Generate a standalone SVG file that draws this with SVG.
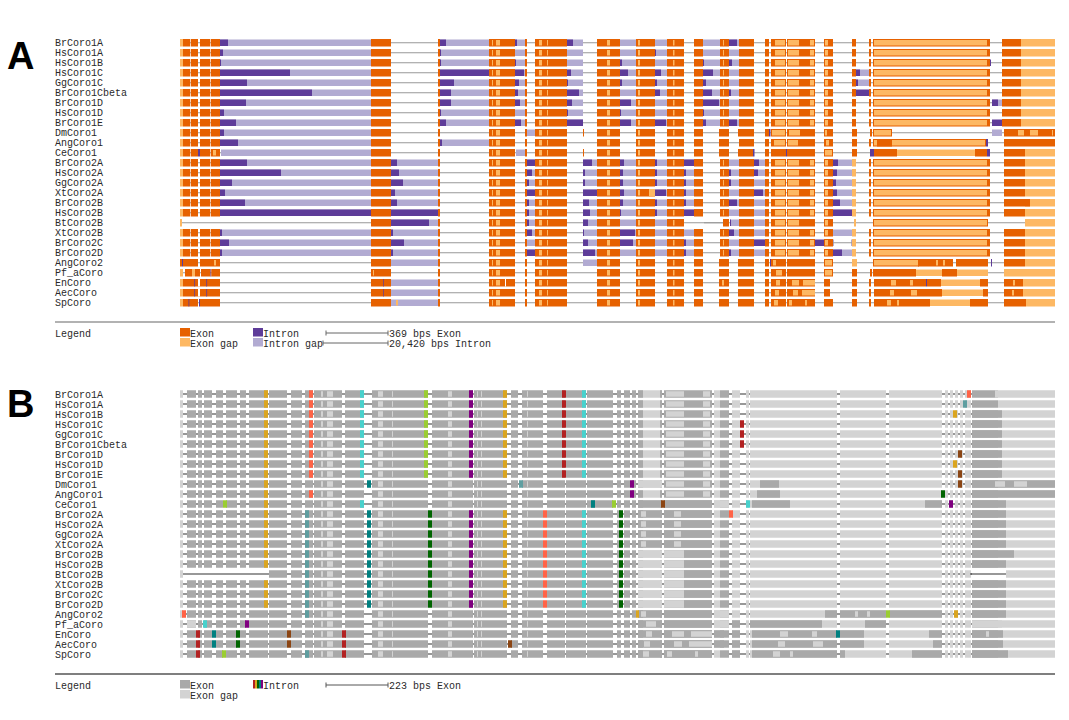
<svg xmlns="http://www.w3.org/2000/svg" xmlns:xlink="http://www.w3.org/1999/xlink" width="1069" height="720" viewBox="0 0 1069 720">
<style>
text{font-family:"Liberation Mono","DejaVu Sans Mono",monospace;font-size:10px;fill:#2a2a2a}
.big{font-family:"Liberation Sans",Arial,sans-serif;font-size:38px;font-weight:bold;fill:#000}
.ex{fill:#E66100}.eg{fill:#FDB863}.lt{fill:#FDB863}.egb{fill:#FDB863;stroke:#E66100;stroke-width:1}
.in{fill:#5E3C99}.ig{fill:#B2ABD2}.ln{stroke:#999;stroke-width:1}
.bx{fill:#A9A9A9}.bg{fill:#D3D3D3}.bl{stroke:#333;stroke-width:1.2}
.wh{fill:#fff}
.GR{fill:#DAA520}.TO{fill:#FF6347}.TQ{fill:#48D1CC}.YG{fill:#9ACD32}.PU{fill:#800080}.FB{fill:#B22222}.CB{fill:#5F9EA0}.TE{fill:#008080}.DG{fill:#006400}.SB{fill:#8B4513}
.hr{stroke:#999;stroke-width:1.5}.hr2{stroke:#555;stroke-width:1.5}.sc{stroke:#666;stroke-width:1}
</style>
<defs>
<g id="aIg1">
<rect class="ig" x="220" y="0.5" width="151" height="6.5"/><rect class="ig" x="440" y="0.5" width="49" height="6.5"/><rect class="ig" x="515" y="0.5" width="10" height="6.5"/><rect class="ig" x="567" y="0.5" width="16" height="6.5"/><rect class="ig" x="620" y="0.5" width="16" height="6.5"/><rect class="ig" x="655" y="0.5" width="12" height="6.5"/><rect class="ig" x="703" y="0.5" width="17" height="6.5"/><rect class="ig" x="729" y="0.5" width="10" height="6.5"/>
</g>
<g id="aIg2">
<rect class="ig" x="220" y="0.5" width="151" height="6.5"/><rect class="ig" x="391" y="0.5" width="47" height="6.5"/><rect class="ig" x="527" y="0.5" width="8" height="6.5"/><rect class="ig" x="583" y="0.5" width="14" height="6.5"/><rect class="ig" x="620" y="0.5" width="16" height="6.5"/><rect class="ig" x="655" y="0.5" width="12" height="6.5"/><rect class="ig" x="684" y="0.5" width="10" height="6.5"/><rect class="ig" x="729" y="0.5" width="10" height="6.5"/><rect class="ig" x="754" y="0.5" width="11" height="6.5"/><rect class="ig" x="833" y="0.5" width="19" height="6.5"/>
</g>
<g id="aE1">
<rect class="eg" x="180" y="0" width="3" height="7.5"/><rect class="ex" x="183" y="0" width="7" height="7.5"/><rect class="ex" x="190.7" y="0" width="7.3" height="7.5"/><rect class="ex" x="200" y="0" width="10" height="7.5"/><rect class="ex" x="210.7" y="0" width="9.3" height="7.5"/>
</g>
<g id="aExM">
<rect class="ex" x="371" y="0" width="20" height="7.5"/><rect class="ex" x="438" y="0" width="2" height="7.5"/>
<rect class="ex" x="489" y="0" width="26" height="7.5"/><rect class="lt" x="492" y="1" width="1" height="5.5"/><rect class="lt" x="496" y="1" width="4" height="5.5"/>
<rect class="ex" x="525" y="0" width="2" height="7.5"/>
<rect class="ex" x="535" y="0" width="32" height="7.5"/><rect class="lt" x="539" y="1" width="3" height="5.5"/><rect class="lt" x="547" y="1" width="1" height="5.5"/>
<rect class="ex" x="597" y="0" width="23" height="7.5"/><rect class="lt" x="607" y="1" width="3" height="5.5"/>
<rect class="ex" x="636" y="0" width="19" height="7.5"/><rect class="lt" x="638" y="1" width="2" height="5.5"/>
<rect class="ex" x="667" y="0" width="17" height="7.5"/><rect class="lt" x="673" y="1" width="1.5" height="5.5"/>
<rect class="ex" x="694" y="0" width="9" height="7.5"/>
</g>
<g id="aExL"><use href="#aE1"/><use href="#aExM"/></g>
<g id="aR0">
<rect class="ex" x="720" y="0" width="9" height="7.5"/><rect class="lt" x="723" y="1" width="1" height="5.5"/>
<rect class="ex" x="739" y="0" width="15" height="7.5"/><rect class="ex" x="765" y="0" width="4" height="7.5"/>
<rect class="ex" x="771" y="0" width="15" height="7.5"/><rect class="lt" x="775" y="1" width="10" height="5.5"/>
<rect class="ex" x="787" y="0" width="28" height="7.5"/><rect class="lt" x="788" y="1" width="11" height="5.5"/><rect class="lt" x="810" y="1" width="4" height="5.5"/>
<rect class="ex" x="824" y="0" width="9" height="7.5"/><rect class="lt" x="825" y="1" width="3" height="5.5"/>
<rect class="ex" x="869" y="0" width="2" height="7.5"/>
<rect class="egb" x="873.5" y="0.5" width="114" height="6.5"/>
<rect class="ex" x="988" y="0" width="2" height="7.5"/>
</g>
<g id="aExR"><use href="#aR0"/><rect class="ex" x="852" y="0" width="4" height="7.5"/><rect class="ex" x="1002" y="0" width="2" height="7.5"/><rect class="ex" x="1004" y="0" width="17" height="7.5"/><rect class="eg" x="1021" y="0" width="34" height="7.5"/></g>
<g id="aExR2"><use href="#aR0"/><rect class="eg" x="852" y="0" width="4" height="7.5"/><rect class="ex" x="1004" y="0" width="21" height="7.5"/><rect class="eg" x="1025" y="0" width="30" height="7.5"/></g>
<g id="aLn"><line class="ln" x1="180" y1="3.75" x2="1055" y2="3.75"/></g>

<g id="bBase">
<line class="bl" x1="183" y1="3.75" x2="1055" y2="3.75"/>
<rect class="bg" x="180" y="0" width="3" height="7.5"/>
<rect class="bx" x="187" y="0" width="9" height="7.5"/><rect class="bx" x="198" y="0" width="4" height="7.5"/><rect class="bx" x="204" y="0" width="8" height="7.5"/><rect class="bx" x="216" y="0" width="7" height="7.5"/><rect class="bx" x="226" y="0" width="11" height="7.5"/><rect class="bx" x="240" y="0" width="6" height="7.5"/><rect class="bx" x="249" y="0" width="19" height="7.5"/><rect class="bx" x="269" y="0" width="18" height="7.5"/><rect class="bx" x="291" y="0" width="11" height="7.5"/><rect class="bx" x="305" y="0" width="8" height="7.5"/><rect class="bx" x="314" y="0" width="28" height="7.5"/><rect class="bx" x="345" y="0" width="19" height="7.5"/><rect class="bx" x="372" y="0" width="56" height="7.5"/><rect class="bx" x="432" y="0" width="41" height="7.5"/><rect class="bx" x="474" y="0" width="33" height="7.5"/><rect class="bx" x="511" y="0" width="7" height="7.5"/><rect class="bx" x="522" y="0" width="21" height="7.5"/><rect class="bx" x="547" y="0" width="18" height="7.5"/><rect class="bx" x="566" y="0" width="20" height="7.5"/><rect class="bx" x="587" y="0" width="26" height="7.5"/><rect class="bx" x="617" y="0" width="4" height="7.5"/><rect class="bx" x="624" y="0" width="6" height="7.5"/><rect class="bx" x="632" y="0" width="4" height="7.5"/>
<rect class="bg" x="321" y="1" width="2" height="5.5"/><rect class="bg" x="327" y="1" width="6" height="5.5"/><rect class="bg" x="378" y="1" width="5" height="5.5"/><rect class="bg" x="392" y="1" width="1" height="5.5"/><rect class="bg" x="448" y="1" width="4" height="5.5"/><rect class="bg" x="477" y="1" width="1" height="5.5"/><rect class="bg" x="481" y="1" width="1" height="5.5"/><rect class="bg" x="527" y="1" width="1" height="5.5"/>
<rect class="bg" x="638" y="0" width="24" height="7.5"/><rect class="bx" x="638" y="0" width="5" height="7.5"/><rect class="bx" x="660" y="0" width="2" height="7.5"/><rect class="bx" x="664" y="0" width="48" height="7.5"/><rect class="bg" x="666" y="1" width="18" height="5.5"/><rect class="bg" x="703" y="1" width="7" height="5.5"/><rect class="bg" x="714" y="0" width="6" height="7.5"/><rect class="bx" x="720" y="0" width="9" height="7.5"/><rect class="bg" x="732" y="0" width="8" height="7.5"/><rect class="bg" x="746" y="0" width="3" height="7.5"/><rect class="bg" x="750" y="0" width="87" height="7.5"/><rect class="bg" x="840" y="0" width="46" height="7.5"/><rect class="bg" x="889" y="0" width="53" height="7.5"/><rect class="bg" x="945" y="0" width="3" height="7.5"/><rect class="bg" x="950" y="0" width="3" height="7.5"/><rect class="bg" x="955" y="0" width="3" height="7.5"/><rect class="bg" x="960" y="0" width="3" height="7.5"/><rect class="bg" x="965" y="0" width="6" height="7.5"/><rect class="bx" x="972" y="0" width="26" height="7.5"/><rect class="bg" x="998" y="0" width="57" height="7.5"/>
</g>
<g id="bM1"><rect class="GR" x="264" y="0" width="4" height="7.5"/><rect class="TO" x="309" y="0" width="4" height="7.5"/><rect class="TQ" x="360" y="0" width="4" height="7.5"/><rect class="YG" x="424" y="0" width="4" height="7.5"/><rect class="PU" x="469" y="0" width="4" height="7.5"/><rect class="GR" x="503" y="0" width="4" height="7.5"/><rect class="FB" x="562" y="0" width="4" height="7.5"/><rect class="TQ" x="582" y="0" width="4" height="7.5"/></g>
<g id="bE1"><rect class="bx" x="972" y="0" width="30" height="7.5"/></g>
<g id="bM2"><rect class="CB" x="305" y="0" width="4" height="7.5"/><rect class="TE" x="367" y="0" width="4" height="7.5"/><rect class="DG" x="428" y="0" width="4" height="7.5"/><rect class="PU" x="469" y="0" width="4" height="7.5"/><rect class="GR" x="503" y="0" width="4" height="7.5"/><rect class="TO" x="543" y="0" width="4" height="7.5"/><rect class="TQ" x="582" y="0" width="4" height="7.5"/><rect class="DG" x="619" y="0" width="4" height="7.5"/><rect class="bx" x="972" y="0" width="34" height="7.5"/></g>
<g id="bS2a"><rect class="bx" x="638" y="0" width="24" height="7.5"/><rect class="bg" x="641" y="1" width="5" height="5.5"/><rect class="bx" x="664" y="0" width="48" height="7.5"/><rect class="bg" x="674" y="1" width="7" height="5.5"/></g>
<g id="bS2b"><rect class="bg" x="638" y="0" width="24" height="7.5"/><rect class="bg" x="664" y="0" width="20" height="7.5"/><rect class="bx" x="684" y="0" width="28" height="7.5"/></g>
</defs>

<rect x="0" y="0" width="1069" height="720" fill="#fff"/>
<text class="big" x="7" y="69">A</text>
<text class="big" x="7" y="417">B</text>

<g id="panelA">
<g id="a-BrCoro1A" transform="translate(0,39)"><text x="55" y="7.3">BrCoro1A</text><use href="#aLn"/><use href="#aIg1"/>
<rect class="in" x="220" y="0.5" width="8" height="6.5"/><rect class="in" x="440" y="0.5" width="6" height="6.5"/><rect class="in" x="515" y="0.5" width="2" height="6.5"/><rect class="in" x="567" y="0.5" width="6" height="6.5"/><rect class="in" x="729" y="0.5" width="8" height="6.5"/>
<use href="#aExL"/><use href="#aExR"/></g>
<g id="a-HsCoro1A" transform="translate(0,49)"><text x="55" y="7.3">HsCoro1A</text><use href="#aLn"/><use href="#aIg1"/>
<rect class="in" x="220" y="0.5" width="3" height="6.5"/><rect class="in" x="440" y="0.5" width="1" height="6.5"/><rect class="in" x="655" y="0.5" width="1" height="6.5"/>
<use href="#aExL"/><use href="#aExR"/></g>
<g id="a-HsCoro1B" transform="translate(0,59)"><text x="55" y="7.3">HsCoro1B</text><use href="#aLn"/><use href="#aIg1"/>
<rect class="in" x="220" y="0.5" width="1" height="6.5"/><rect class="in" x="440" y="0.5" width="1" height="6.5"/><rect class="in" x="515" y="0.5" width="1" height="6.5"/><rect class="in" x="620" y="0.5" width="2" height="6.5"/><rect class="in" x="703" y="0.5" width="1" height="6.5"/><rect class="in" x="729" y="0.5" width="3" height="6.5"/><rect class="in" x="990" y="0.5" width="1" height="6.5"/>
<use href="#aExL"/><use href="#aExR"/></g>
<g id="a-HsCoro1C" transform="translate(0,69)"><text x="55" y="7.3">HsCoro1C</text><use href="#aLn"/><use href="#aIg1"/><rect class="ig" x="856" y="0.5" width="13" height="6.5"/>
<rect class="in" x="220" y="0.5" width="70" height="6.5"/><rect class="in" x="440" y="0.5" width="49" height="6.5"/><rect class="in" x="515" y="0.5" width="9" height="6.5"/><rect class="in" x="567" y="0.5" width="4" height="6.5"/><rect class="in" x="620" y="0.5" width="8" height="6.5"/><rect class="in" x="655" y="0.5" width="6" height="6.5"/><rect class="in" x="703" y="0.5" width="10" height="6.5"/><rect class="in" x="856" y="0.5" width="4" height="6.5"/>
<use href="#aExL"/><use href="#aExR"/></g>
<g id="a-GgCoro1C" transform="translate(0,79)"><text x="55" y="7.3">GgCoro1C</text><use href="#aLn"/><use href="#aIg1"/><rect class="ig" x="856" y="0.5" width="13" height="6.5"/>
<rect class="in" x="220" y="0.5" width="27" height="6.5"/><rect class="in" x="440" y="0.5" width="14" height="6.5"/><rect class="in" x="515" y="0.5" width="4" height="6.5"/><rect class="in" x="567" y="0.5" width="1" height="6.5"/><rect class="in" x="620" y="0.5" width="2" height="6.5"/><rect class="in" x="655" y="0.5" width="2" height="6.5"/><rect class="in" x="703" y="0.5" width="3" height="6.5"/><rect class="in" x="856" y="0.5" width="2" height="6.5"/>
<use href="#aExL"/><use href="#aExR"/></g>
<g id="a-BrCoro1Cbeta" transform="translate(0,89)"><text x="55" y="7.3">BrCoro1Cbeta</text><use href="#aLn"/><use href="#aIg1"/>
<rect class="in" x="220" y="0.5" width="92" height="6.5"/><rect class="in" x="440" y="0.5" width="11" height="6.5"/><rect class="in" x="515" y="0.5" width="3" height="6.5"/><rect class="in" x="567" y="0.5" width="12" height="6.5"/><rect class="in" x="655" y="0.5" width="5" height="6.5"/><rect class="in" x="703" y="0.5" width="9" height="6.5"/><rect class="in" x="729" y="0.5" width="2" height="6.5"/><rect class="in" x="856" y="0.5" width="14" height="6.5"/>
<use href="#aExL"/><use href="#aExR"/></g>
<g id="a-BrCoro1D" transform="translate(0,99)"><text x="55" y="7.3">BrCoro1D</text><use href="#aLn"/><use href="#aIg1"/><rect class="ig" x="992" y="0.5" width="10" height="6.5"/>
<rect class="in" x="220" y="0.5" width="26" height="6.5"/><rect class="in" x="440" y="0.5" width="11" height="6.5"/><rect class="in" x="515" y="0.5" width="5" height="6.5"/><rect class="in" x="567" y="0.5" width="5" height="6.5"/><rect class="in" x="620" y="0.5" width="11" height="6.5"/><rect class="in" x="703" y="0.5" width="16" height="6.5"/><rect class="in" x="992" y="0.5" width="6" height="6.5"/>
<use href="#aExL"/><use href="#aExR"/></g>
<g id="a-HsCoro1D" transform="translate(0,109)"><text x="55" y="7.3">HsCoro1D</text><use href="#aLn"/><use href="#aIg1"/>
<rect class="in" x="220" y="0.5" width="4" height="6.5"/><rect class="in" x="440" y="0.5" width="1" height="6.5"/><rect class="in" x="567" y="0.5" width="1" height="6.5"/><rect class="in" x="620" y="0.5" width="1" height="6.5"/><rect class="in" x="703" y="0.5" width="1" height="6.5"/>
<use href="#aExL"/><use href="#aExR"/></g>
<g id="a-BrCoro1E" transform="translate(0,119)"><text x="55" y="7.3">BrCoro1E</text><use href="#aLn"/><use href="#aIg1"/>
<rect class="in" x="220" y="0.5" width="16" height="6.5"/><rect class="in" x="440" y="0.5" width="6" height="6.5"/><rect class="in" x="515" y="0.5" width="6" height="6.5"/><rect class="in" x="567" y="0.5" width="16" height="6.5"/><rect class="in" x="620" y="0.5" width="11" height="6.5"/><rect class="in" x="655" y="0.5" width="11" height="6.5"/><rect class="in" x="703" y="0.5" width="3" height="6.5"/><rect class="in" x="729" y="0.5" width="8" height="6.5"/><rect class="in" x="992" y="0.5" width="10" height="6.5"/>
<use href="#aExL"/><use href="#aExR"/></g>
<g id="a-DmCoro1" transform="translate(0,129)"><text x="55" y="7.3">DmCoro1</text><use href="#aLn"/>
<rect class="ig" x="220" y="0.5" width="151" height="6.5"/><rect class="ig" x="527" y="0.5" width="8" height="6.5"/><rect class="ig" x="992" y="0.5" width="10" height="6.5"/>
<rect class="in" x="220" y="0.5" width="4" height="6.5"/>
<use href="#aExL"/><rect class="ex" x="583" y="0" width="1" height="7.5"/>
<rect class="ex" x="719" y="0" width="10" height="7.5"/><rect class="ex" x="738" y="0" width="16" height="7.5"/><rect class="ex" x="765" y="0" width="4" height="7.5"/><rect class="in" x="769" y="0" width="1.5" height="7.5"/><rect class="egb" x="771.5" y="0.5" width="14" height="6.5"/><rect class="ex" x="787" y="0" width="28" height="7.5"/><rect class="lt" x="789" y="1" width="11" height="5.5"/><rect class="ex" x="824" y="0" width="9" height="7.5"/><rect class="lt" x="825" y="1" width="2" height="5.5"/><rect class="ex" x="852" y="0" width="5" height="7.5"/><rect class="ex" x="870" y="0" width="2" height="7.5"/><rect class="egb" x="873.5" y="0.5" width="18" height="6.5"/>
<rect class="ex" x="1004" y="0" width="51" height="7.5"/><rect class="lt" x="1018" y="1" width="6" height="5.5"/><rect class="lt" x="1030" y="1" width="8" height="5.5"/><rect class="lt" x="1052" y="1" width="1" height="5.5"/></g>
<g id="a-AngCoro1" transform="translate(0,139)"><text x="55" y="7.3">AngCoro1</text><use href="#aLn"/>
<rect class="ig" x="220" y="0.5" width="151" height="6.5"/><rect class="ig" x="440" y="0.5" width="49" height="6.5"/>
<rect class="in" x="220" y="0.5" width="18" height="6.5"/><rect class="in" x="440" y="0.5" width="2" height="6.5"/>
<use href="#aExL"/>
<rect class="ex" x="719" y="0" width="10" height="7.5"/><rect class="ex" x="739" y="0" width="15" height="7.5"/><rect class="ex" x="765" y="0" width="4" height="7.5"/><rect class="ex" x="771" y="0" width="15" height="7.5"/><rect class="lt" x="774" y="1" width="11" height="5.5"/><rect class="ex" x="787" y="0" width="28" height="7.5"/><rect class="lt" x="788" y="1" width="10" height="5.5"/><rect class="ex" x="824" y="0" width="9" height="7.5"/><rect class="lt" x="826" y="1" width="3" height="5.5"/><rect class="ex" x="852" y="0" width="5" height="7.5"/><rect class="ex" x="869" y="0" width="2" height="7.5"/><rect class="egb" x="873.5" y="0.5" width="112" height="6.5"/><rect class="ex" x="877" y="0" width="15" height="7.5"/><rect class="in" x="986" y="0" width="2" height="7.5"/>
<rect class="ex" x="1004" y="0" width="51" height="7.5"/></g>
<g id="a-CeCoro1" transform="translate(0,149)"><text x="55" y="7.3">CeCoro1</text><use href="#aLn"/>
<rect class="ig" x="221" y="0.5" width="150" height="6.5"/><rect class="ig" x="516" y="0.5" width="9" height="6.5"/>
<use href="#aExL"/><rect class="in" x="198" y="0" width="2" height="7.5"/><rect class="lt" x="213" y="1" width="3" height="5.5"/><rect class="ex" x="583" y="0" width="1" height="7.5"/>
<rect class="ex" x="719" y="0" width="10" height="7.5"/><rect class="ex" x="738" y="0" width="15" height="7.5"/><rect class="in" x="753" y="0" width="1.5" height="7.5"/><rect class="ex" x="765" y="0" width="4" height="7.5"/><rect class="ex" x="771" y="0" width="15" height="7.5"/><rect class="in" x="786" y="0" width="1" height="7.5"/><rect class="ex" x="787" y="0" width="28" height="7.5"/><rect class="egb" x="824.5" y="0.5" width="8" height="6.5"/><rect class="ex" x="852" y="0" width="5" height="7.5"/><rect class="in" x="870" y="0" width="4" height="7.5"/><rect class="ex" x="874" y="0" width="23" height="7.5"/><rect class="eg" x="897" y="0.5" width="78" height="6.5"/><rect class="ex" x="975" y="0" width="12" height="7.5"/><rect class="in" x="987" y="0" width="3" height="7.5"/>
<rect class="ex" x="1004" y="0" width="21" height="7.5"/><rect class="eg" x="1025" y="0" width="30" height="7.5"/></g>
<g id="a-BrCoro2A" transform="translate(0,159)"><text x="55" y="7.3">BrCoro2A</text><use href="#aLn"/><use href="#aIg2"/>
<rect class="in" x="220" y="0.5" width="27" height="6.5"/><rect class="in" x="391" y="0.5" width="6" height="6.5"/><rect class="in" x="527" y="0.5" width="8" height="6.5"/><rect class="in" x="583" y="0.5" width="9" height="6.5"/><rect class="in" x="620" y="0.5" width="4" height="6.5"/><rect class="in" x="655" y="0.5" width="2" height="6.5"/><rect class="in" x="684" y="0.5" width="10" height="6.5"/><rect class="in" x="754" y="0.5" width="5" height="6.5"/><rect class="in" x="833" y="0.5" width="5" height="6.5"/>
<use href="#aExL"/><use href="#aExR2"/></g>
<g id="a-HsCoro2A" transform="translate(0,169)"><text x="55" y="7.3">HsCoro2A</text><use href="#aLn"/><use href="#aIg2"/>
<rect class="in" x="220" y="0.5" width="61" height="6.5"/><rect class="in" x="391" y="0.5" width="8" height="6.5"/><rect class="in" x="527" y="0.5" width="5" height="6.5"/><rect class="in" x="583" y="0.5" width="2" height="6.5"/><rect class="in" x="620" y="0.5" width="3" height="6.5"/><rect class="in" x="655" y="0.5" width="2" height="6.5"/><rect class="in" x="684" y="0.5" width="2" height="6.5"/><rect class="in" x="729" y="0.5" width="2" height="6.5"/><rect class="in" x="754" y="0.5" width="4" height="6.5"/><rect class="in" x="833" y="0.5" width="4" height="6.5"/>
<use href="#aExL"/><use href="#aExR2"/></g>
<g id="a-GgCoro2A" transform="translate(0,179)"><text x="55" y="7.3">GgCoro2A</text><use href="#aLn"/><use href="#aIg2"/>
<rect class="in" x="220" y="0.5" width="12" height="6.5"/><rect class="in" x="391" y="0.5" width="12" height="6.5"/><rect class="in" x="527" y="0.5" width="2" height="6.5"/><rect class="in" x="583" y="0.5" width="2" height="6.5"/><rect class="in" x="620" y="0.5" width="3" height="6.5"/><rect class="in" x="655" y="0.5" width="2" height="6.5"/><rect class="in" x="684" y="0.5" width="2" height="6.5"/><rect class="in" x="729" y="0.5" width="2" height="6.5"/><rect class="in" x="833" y="0.5" width="3" height="6.5"/>
<use href="#aExL"/><use href="#aExR2"/></g>
<g id="a-XtCoro2A" transform="translate(0,189)"><text x="55" y="7.3">XtCoro2A</text><use href="#aLn"/><use href="#aIg2"/>
<rect class="in" x="220" y="0.5" width="5" height="6.5"/><rect class="in" x="391" y="0.5" width="4" height="6.5"/><rect class="in" x="527" y="0.5" width="8" height="6.5"/><rect class="in" x="583" y="0.5" width="14" height="6.5"/><rect class="in" x="620" y="0.5" width="4" height="6.5"/><rect class="in" x="655" y="0.5" width="11" height="6.5"/><rect class="in" x="684" y="0.5" width="2" height="6.5"/><rect class="in" x="754" y="0.5" width="9" height="6.5"/><rect class="in" x="833" y="0.5" width="4" height="6.5"/>
<use href="#aExL"/><rect class="eg" x="649" y="0" width="6" height="7.5"/><use href="#aExR2"/></g>
<g id="a-BrCoro2B" transform="translate(0,199)"><text x="55" y="7.3">BrCoro2B</text><use href="#aLn"/><use href="#aIg2"/>
<rect class="in" x="220" y="0.5" width="25" height="6.5"/><rect class="in" x="391" y="0.5" width="6" height="6.5"/><rect class="in" x="527" y="0.5" width="2" height="6.5"/><rect class="in" x="583" y="0.5" width="6" height="6.5"/><rect class="in" x="620" y="0.5" width="3" height="6.5"/><rect class="in" x="655" y="0.5" width="2" height="6.5"/><rect class="in" x="684" y="0.5" width="2" height="6.5"/><rect class="in" x="729" y="0.5" width="8" height="6.5"/><rect class="in" x="833" y="0.5" width="7" height="6.5"/>
<use href="#aExL"/><use href="#aExR2"/><rect class="ex" x="1025" y="0" width="5" height="7.5"/></g>
<g id="a-HsCoro2B" transform="translate(0,209)"><text x="55" y="7.3">HsCoro2B</text><use href="#aLn"/><use href="#aIg2"/>
<rect class="in" x="220" y="0.5" width="151" height="6.5"/><rect class="in" x="391" y="0.5" width="47" height="6.5"/><rect class="in" x="527" y="0.5" width="2" height="6.5"/><rect class="in" x="583" y="0.5" width="7" height="6.5"/><rect class="in" x="620" y="0.5" width="1" height="6.5"/><rect class="in" x="655" y="0.5" width="2" height="6.5"/><rect class="in" x="684" y="0.5" width="10" height="6.5"/><rect class="in" x="833" y="0.5" width="19" height="6.5"/>
<use href="#aExL"/><use href="#aExR2"/></g>
<g id="a-BtCoro2B" transform="translate(0,219)"><text x="55" y="7.3">BtCoro2B</text><use href="#aLn"/>
<rect class="ig" x="391" y="0.5" width="47" height="6.5"/><rect class="ig" x="527" y="0.5" width="8" height="6.5"/><rect class="ig" x="583" y="0.5" width="14" height="6.5"/><rect class="ig" x="620" y="0.5" width="16" height="6.5"/><rect class="ig" x="655" y="0.5" width="12" height="6.5"/><rect class="ig" x="730" y="0.5" width="9" height="6.5"/><rect class="ig" x="754" y="0.5" width="11" height="6.5"/>
<rect class="in" x="391" y="0.5" width="38" height="6.5"/><rect class="in" x="527" y="0.5" width="2" height="6.5"/><rect class="in" x="583" y="0.5" width="5" height="6.5"/><rect class="in" x="730" y="0.5" width="1" height="6.5"/>
<rect class="eg" x="180" y="0" width="2" height="7.5"/><use href="#aExM"/><rect class="wh" x="693" y="-1" width="11" height="9.5"/><line class="ln" x1="693" y1="3.75" x2="723" y2="3.75"/>
<rect class="ex" x="723" y="0" width="6" height="7.5"/><rect class="ex" x="739" y="0" width="15" height="7.5"/><rect class="ex" x="765" y="0" width="4" height="7.5"/><rect class="ex" x="771" y="0" width="15" height="7.5"/><rect class="lt" x="775" y="1" width="10" height="5.5"/><rect class="ex" x="787" y="0" width="28" height="7.5"/><rect class="lt" x="788" y="1" width="11" height="5.5"/><rect class="ex" x="824" y="0" width="9" height="7.5"/><rect class="lt" x="825" y="1" width="3" height="5.5"/><rect class="eg" x="854" y="0" width="2" height="7.5"/><rect class="egb" x="873.5" y="0.5" width="114" height="6.5"/><rect class="eg" x="1025" y="0" width="30" height="7.5"/></g>
<g id="a-XtCoro2B" transform="translate(0,229)"><text x="55" y="7.3">XtCoro2B</text><use href="#aLn"/><use href="#aIg2"/>
<rect class="in" x="220" y="0.5" width="2" height="6.5"/><rect class="in" x="391" y="0.5" width="2" height="6.5"/><rect class="in" x="527" y="0.5" width="5" height="6.5"/><rect class="in" x="583" y="0.5" width="1" height="6.5"/><rect class="in" x="620" y="0.5" width="15" height="6.5"/><rect class="in" x="729" y="0.5" width="5" height="6.5"/>
<use href="#aExL"/><use href="#aExR2"/></g>
<g id="a-BrCoro2C" transform="translate(0,239)"><text x="55" y="7.3">BrCoro2C</text><use href="#aLn"/><use href="#aIg2"/><rect class="wh" x="834" y="0" width="17" height="7.5"/><line class="ln" x1="833" y1="3.75" x2="852" y2="3.75"/>
<rect class="in" x="220" y="0.5" width="9" height="6.5"/><rect class="in" x="391" y="0.5" width="13" height="6.5"/><rect class="in" x="583" y="0.5" width="5" height="6.5"/><rect class="in" x="620" y="0.5" width="13" height="6.5"/><rect class="in" x="684" y="0.5" width="2" height="6.5"/><rect class="in" x="754" y="0.5" width="11" height="6.5"/><rect class="in" x="815" y="0.5" width="9" height="6.5"/>
<use href="#aExL"/><use href="#aExR2"/></g>
<g id="a-BrCoro2D" transform="translate(0,249)"><text x="55" y="7.3">BrCoro2D</text><use href="#aLn"/><use href="#aIg2"/>
<rect class="in" x="220" y="0.5" width="2" height="6.5"/><rect class="in" x="391" y="0.5" width="2" height="6.5"/><rect class="in" x="527" y="0.5" width="8" height="6.5"/><rect class="in" x="583" y="0.5" width="12" height="6.5"/><rect class="in" x="684" y="0.5" width="2" height="6.5"/><rect class="in" x="729" y="0.5" width="2" height="6.5"/><rect class="in" x="833" y="0.5" width="9" height="6.5"/>
<use href="#aExL"/><use href="#aExR2"/></g>
<g id="a-AngCoro2" transform="translate(0,259)"><text x="55" y="7.3">AngCoro2</text><use href="#aLn"/>
<rect class="ig" x="391" y="0.5" width="47" height="6.5"/><rect class="ig" x="583" y="0.5" width="14" height="6.5"/>
<rect class="ex" x="180" y="0" width="2" height="7.5"/><rect class="in" x="182" y="0" width="1" height="7.5"/><rect class="ex" x="183" y="0" width="15" height="7.5"/><rect class="ex" x="200" y="0" width="20" height="7.5"/><rect class="lt" x="214" y="1" width="2" height="5.5"/><use href="#aExM"/>
<rect class="ex" x="719" y="0" width="10" height="7.5"/><rect class="ex" x="738" y="0" width="16" height="7.5"/><rect class="ex" x="765" y="0" width="4" height="7.5"/><rect class="in" x="770" y="0" width="1" height="7.5"/><rect class="ex" x="771" y="0" width="15" height="7.5"/><rect class="lt" x="773" y="1" width="3" height="5.5"/><rect class="ex" x="787" y="0" width="28" height="7.5"/><rect class="egb" x="824.5" y="0.5" width="8" height="6.5"/><rect class="eg" x="852" y="0" width="5" height="7.5"/><rect class="egb" x="873.5" y="0.5" width="45" height="6.5"/><rect class="ex" x="918" y="0" width="35" height="7.5"/><rect class="lt" x="936" y="1" width="2" height="5.5"/><rect class="lt" x="943" y="1" width="2" height="5.5"/><rect class="ex" x="956" y="0" width="32" height="7.5"/><rect class="in" x="991" y="0" width="1" height="7.5"/>
<rect class="ex" x="1004" y="0" width="21" height="7.5"/><rect class="eg" x="1025" y="0" width="30" height="7.5"/></g>
<g id="a-Pf_aCoro" transform="translate(0,269)"><text x="55" y="7.3">Pf_aCoro</text><use href="#aLn"/>
<rect class="eg" x="180" y="0" width="3" height="7.5"/><rect class="ex" x="185" y="0" width="7" height="7.5"/><rect class="eg" x="192" y="0" width="3" height="7.5"/><rect class="ex" x="195" y="0" width="5" height="7.5"/><rect class="ex" x="201" y="0" width="9.5" height="7.5"/><rect class="in" x="210.5" y="0" width="0.8" height="7.5"/><rect class="ex" x="211.3" y="0" width="8.7" height="7.5"/><use href="#aExM"/><rect class="lt" x="373" y="1" width="1" height="5.5"/>
<rect class="ex" x="719" y="0" width="10" height="7.5"/><rect class="ex" x="738" y="0" width="16" height="7.5"/><rect class="ex" x="765" y="0" width="4" height="7.5"/><rect class="ex" x="771" y="0" width="15" height="7.5"/><rect class="lt" x="776" y="1" width="6" height="5.5"/><rect class="ex" x="787" y="0" width="28" height="7.5"/><rect class="egb" x="824.5" y="0.5" width="8" height="6.5"/><rect class="ex" x="852" y="0" width="5" height="7.5"/><rect class="ex" x="870" y="0" width="2" height="7.5"/><rect class="ex" x="873" y="0" width="43" height="7.5"/><rect class="eg" x="916" y="0.5" width="26" height="6.5"/><rect class="ex" x="942" y="0" width="15" height="7.5"/><rect class="eg" x="957" y="0.5" width="31" height="6.5"/>
<rect class="eg" x="1004" y="0" width="51" height="7.5"/></g>
<g id="a-EnCoro" transform="translate(0,279)"><text x="55" y="7.3">EnCoro</text><use href="#aLn"/>
<rect class="ig" x="391" y="0.5" width="47" height="6.5"/>
<rect class="eg" x="180" y="0" width="3" height="7.5"/><rect class="ex" x="183" y="0" width="37" height="7.5"/><rect class="in" x="194.3" y="0" width="0.8" height="7.5"/><rect class="in" x="206.3" y="0" width="0.8" height="7.5"/><rect class="wh" x="198" y="0" width="2" height="7.5"/><use href="#aExM"/><rect class="in" x="383" y="0" width="0.7" height="7.5"/><rect class="wh" x="505" y="0" width="1" height="7.5"/>
<rect class="ex" x="719" y="0" width="10" height="7.5"/><rect class="lt" x="722" y="1" width="2" height="5.5"/><rect class="ex" x="738" y="0" width="16" height="7.5"/><rect class="ex" x="765" y="0" width="4" height="7.5"/><rect class="ex" x="771" y="0" width="15" height="7.5"/><rect class="lt" x="776" y="1" width="4" height="5.5"/><rect class="ex" x="787" y="0" width="28" height="7.5"/><rect class="lt" x="792" y="1" width="7" height="5.5"/><rect class="lt" x="803" y="1" width="12" height="5.5"/><rect class="ex" x="824" y="0" width="6" height="7.5"/><rect class="ex" x="852" y="0" width="5" height="7.5"/><rect class="ex" x="869" y="0" width="2" height="7.5"/><rect class="ex" x="874" y="0" width="52" height="7.5"/><rect class="lt" x="891" y="1" width="5" height="5.5"/><rect class="lt" x="910" y="1" width="3" height="5.5"/><rect class="in" x="926" y="0" width="1" height="7.5"/><rect class="ex" x="927" y="0" width="14" height="7.5"/><rect class="eg" x="941" y="0.5" width="39" height="6.5"/><rect class="ex" x="980" y="0" width="8" height="7.5"/>
<rect class="ex" x="1004" y="0" width="19" height="7.5"/><rect class="lt" x="1013" y="1" width="2" height="5.5"/><rect class="eg" x="1023" y="0" width="32" height="7.5"/></g>
<g id="a-AecCoro" transform="translate(0,289)"><text x="55" y="7.3">AecCoro</text><use href="#aLn"/>
<rect class="ig" x="391" y="0.5" width="47" height="6.5"/>
<rect class="eg" x="180" y="0" width="3" height="7.5"/><rect class="ex" x="183" y="0" width="37" height="7.5"/><rect class="in" x="194.3" y="0" width="0.8" height="7.5"/><rect class="in" x="206.3" y="0" width="0.8" height="7.5"/><rect class="wh" x="198" y="0" width="2" height="7.5"/><use href="#aExM"/><rect class="in" x="383" y="0" width="0.7" height="7.5"/>
<rect class="ex" x="719" y="0" width="10" height="7.5"/><rect class="ex" x="738" y="0" width="16" height="7.5"/><rect class="ex" x="765" y="0" width="4" height="7.5"/><rect class="ex" x="771" y="0" width="15" height="7.5"/><rect class="lt" x="775" y="1" width="4" height="5.5"/><rect class="ex" x="787" y="0" width="28" height="7.5"/><rect class="lt" x="793" y="1" width="5" height="5.5"/><rect class="lt" x="802" y="1" width="13" height="5.5"/><rect class="ex" x="824" y="0" width="6" height="7.5"/><rect class="ex" x="852" y="0" width="5" height="7.5"/><rect class="ex" x="869" y="0" width="2" height="7.5"/><rect class="ex" x="874" y="0" width="68" height="7.5"/><rect class="lt" x="890" y="1" width="4" height="5.5"/><rect class="lt" x="911" y="1" width="6" height="5.5"/><rect class="eg" x="942" y="0.5" width="41" height="6.5"/><rect class="ex" x="983" y="0" width="5" height="7.5"/>
<rect class="ex" x="1004" y="0" width="19" height="7.5"/><rect class="lt" x="1012" y="1" width="2" height="5.5"/><rect class="eg" x="1023" y="0" width="32" height="7.5"/></g>
<g id="a-SpCoro" transform="translate(0,299)"><text x="55" y="7.3">SpCoro</text><use href="#aLn"/>
<rect class="ig" x="391" y="0.5" width="47" height="6.5"/>
<rect class="eg" x="180" y="0" width="3" height="7.5"/><rect class="ex" x="183" y="0" width="15" height="7.5"/><rect class="in" x="188.5" y="0" width="0.8" height="7.5"/><rect class="ex" x="200" y="0" width="20" height="7.5"/><rect class="in" x="199" y="0" width="1" height="7.5"/><use href="#aExM"/><rect class="lt" x="396" y="1" width="2" height="5.5"/>
<rect class="ex" x="719" y="0" width="10" height="7.5"/><rect class="ex" x="738" y="0" width="16" height="7.5"/><rect class="ex" x="765" y="0" width="4" height="7.5"/><rect class="ex" x="771" y="0" width="15" height="7.5"/><rect class="lt" x="774" y="1" width="4" height="5.5"/><rect class="ex" x="787" y="0" width="28" height="7.5"/><rect class="lt" x="789" y="1" width="3" height="5.5"/><rect class="lt" x="805" y="1" width="2" height="5.5"/><rect class="ex" x="824" y="0" width="9" height="7.5"/><rect class="ex" x="852" y="0" width="5" height="7.5"/><rect class="ex" x="869" y="0" width="2" height="7.5"/><rect class="ex" x="874" y="0" width="56" height="7.5"/><rect class="lt" x="887" y="1" width="4" height="5.5"/><rect class="lt" x="897" y="1" width="2" height="5.5"/><rect class="eg" x="930" y="0.5" width="40" height="6.5"/><rect class="ex" x="970" y="0" width="18" height="7.5"/>
<rect class="ex" x="1004" y="0" width="22" height="7.5"/><rect class="eg" x="1026" y="0" width="29" height="7.5"/></g>
</g>

<g id="legendA">
<line class="hr" x1="55" y1="322" x2="1055" y2="322"/>
<text x="55" y="336.5">Legend</text>
<rect class="ex" x="180" y="328" width="10" height="8.5"/><text x="190" y="336.5">Exon</text>
<rect class="eg" x="180" y="338" width="10" height="8.5"/><text x="190" y="346.5">Exon gap</text>
<rect class="in" x="253" y="328" width="10" height="8.5"/><text x="263" y="336.5">Intron</text>
<rect class="ig" x="253" y="338" width="10" height="8.5"/><text x="263" y="346.5">Intron gap</text>
<line class="sc" x1="326" y1="333" x2="388" y2="333"/><line class="sc" x1="326" y1="330.5" x2="326" y2="335.5"/><line class="sc" x1="388" y1="330.5" x2="388" y2="335.5"/><text x="389" y="336.5">369 bps Exon</text>
<line class="sc" x1="323" y1="343" x2="388" y2="343"/><line class="sc" x1="323" y1="340.5" x2="323" y2="345.5"/><line class="sc" x1="388" y1="340.5" x2="388" y2="345.5"/><text x="389" y="346.5">20,420 bps Intron</text>
</g>

<g id="panelB">
<g id="b-BrCoro1A" transform="translate(0,390.25)"><text x="55" y="7.3">BrCoro1A</text><use href="#bBase"/><use href="#bM1"/><rect class="bg" x="995" y="0" width="3" height="7.5"/><rect class="TO" x="967" y="0" width="4" height="7.5"/></g>
<g id="b-HsCoro1A" transform="translate(0,400.25)"><text x="55" y="7.3">HsCoro1A</text><use href="#bBase"/><use href="#bM1"/><rect class="CB" x="963" y="0" width="4" height="7.5"/></g>
<g id="b-HsCoro1B" transform="translate(0,410.25)"><text x="55" y="7.3">HsCoro1B</text><use href="#bBase"/><use href="#bM1"/><use href="#bE1"/><rect class="GR" x="953" y="0" width="4" height="7.5"/></g>
<g id="b-HsCoro1C" transform="translate(0,420.25)"><text x="55" y="7.3">HsCoro1C</text><use href="#bBase"/><use href="#bM1"/><use href="#bE1"/><rect class="FB" x="740" y="0" width="4" height="7.5"/></g>
<g id="b-GgCoro1C" transform="translate(0,430.25)"><text x="55" y="7.3">GgCoro1C</text><use href="#bBase"/><use href="#bM1"/><use href="#bE1"/><rect class="FB" x="740" y="0" width="4" height="7.5"/></g>
<g id="b-BrCoro1Cbeta" transform="translate(0,440.25)"><text x="55" y="7.3">BrCoro1Cbeta</text><use href="#bBase"/><use href="#bM1"/><use href="#bE1"/><rect class="FB" x="740" y="0" width="4" height="7.5"/></g>
<g id="b-BrCoro1D" transform="translate(0,450.25)"><text x="55" y="7.3">BrCoro1D</text><use href="#bBase"/><use href="#bM1"/><use href="#bE1"/><rect class="SB" x="958" y="0" width="4" height="7.5"/></g>
<g id="b-HsCoro1D" transform="translate(0,460.25)"><text x="55" y="7.3">HsCoro1D</text><use href="#bBase"/><use href="#bM1"/><use href="#bE1"/><rect class="GR" x="953" y="0" width="4" height="7.5"/></g>
<g id="b-BrCoro1E" transform="translate(0,470.25)"><text x="55" y="7.3">BrCoro1E</text><use href="#bBase"/><use href="#bM1"/><use href="#bE1"/><rect class="SB" x="958" y="0" width="4" height="7.5"/></g>
<g id="b-DmCoro1" transform="translate(0,480.25)"><text x="55" y="7.3">DmCoro1</text><use href="#bBase"/><rect class="GR" x="264" y="0" width="4" height="7.5"/><rect class="TE" x="367" y="0" width="4" height="7.5"/><rect class="CB" x="519" y="0" width="4" height="7.5"/><rect class="PU" x="630" y="0" width="4" height="7.5"/><rect class="bg" x="638" y="0" width="24" height="7.5"/><rect class="bx" x="760" y="0" width="19" height="7.5"/><rect class="SB" x="958" y="0" width="4" height="7.5"/><rect class="bx" x="972" y="0" width="83" height="7.5"/><rect class="bg" x="995" y="1" width="10" height="5.5"/><rect class="bg" x="1014" y="1" width="13" height="5.5"/></g>
<g id="b-AngCoro1" transform="translate(0,490.25)"><text x="55" y="7.3">AngCoro1</text><use href="#bBase"/><rect class="GR" x="264" y="0" width="4" height="7.5"/><rect class="TO" x="309" y="0" width="4" height="7.5"/><rect class="PU" x="630" y="0" width="4" height="7.5"/><rect class="bx" x="757" y="0" width="23" height="7.5"/><rect class="DG" x="941" y="0" width="4" height="7.5"/><rect class="bx" x="972" y="0" width="83" height="7.5"/></g>
<g id="b-CeCoro1" transform="translate(0,500.25)"><text x="55" y="7.3">CeCoro1</text><use href="#bBase"/><rect class="YG" x="223" y="0" width="4" height="7.5"/><rect class="GR" x="264" y="0" width="4" height="7.5"/><rect class="TQ" x="360" y="0" width="4" height="7.5"/><rect class="TE" x="591" y="0" width="4" height="7.5"/><rect class="YG" x="612" y="0" width="4" height="7.5"/><rect class="bx" x="638" y="0" width="24" height="7.5"/><rect class="bx" x="664" y="0" width="48" height="7.5"/><rect class="SB" x="661" y="0" width="4" height="7.5"/><rect class="bg" x="714" y="0" width="15" height="7.5"/><rect class="TQ" x="746" y="0" width="4" height="7.5"/><rect class="bx" x="752" y="0" width="38" height="7.5"/><rect class="bx" x="925" y="0" width="17" height="7.5"/><rect class="PU" x="949" y="0" width="4" height="7.5"/><rect class="bx" x="972" y="0" width="34" height="7.5"/></g>
<g id="b-BrCoro2A" transform="translate(0,510.25)"><text x="55" y="7.3">BrCoro2A</text><use href="#bBase"/><use href="#bS2a"/><rect class="GR" x="264" y="0" width="4" height="7.5"/><use href="#bM2"/><rect class="TO" x="729" y="0" width="4" height="7.5"/></g>
<g id="b-HsCoro2A" transform="translate(0,520.25)"><text x="55" y="7.3">HsCoro2A</text><use href="#bBase"/><use href="#bS2a"/><rect class="GR" x="264" y="0" width="4" height="7.5"/><use href="#bM2"/></g>
<g id="b-GgCoro2A" transform="translate(0,530.25)"><text x="55" y="7.3">GgCoro2A</text><use href="#bBase"/><use href="#bS2a"/><rect class="GR" x="264" y="0" width="4" height="7.5"/><use href="#bM2"/></g>
<g id="b-XtCoro2A" transform="translate(0,540.25)"><text x="55" y="7.3">XtCoro2A</text><use href="#bBase"/><use href="#bS2a"/><rect class="GR" x="264" y="0" width="4" height="7.5"/><use href="#bM2"/></g>
<g id="b-BrCoro2B" transform="translate(0,550.25)"><text x="55" y="7.3">BrCoro2B</text><use href="#bBase"/><use href="#bS2b"/><rect class="GR" x="264" y="0" width="4" height="7.5"/><use href="#bM2"/><rect class="bx" x="1006" y="0" width="8" height="7.5"/></g>
<g id="b-HsCoro2B" transform="translate(0,560.25)"><text x="55" y="7.3">HsCoro2B</text><use href="#bBase"/><use href="#bS2b"/><rect class="GR" x="264" y="0" width="4" height="7.5"/><use href="#bM2"/></g>
<g id="b-BtCoro2B" transform="translate(0,570.25)"><text x="55" y="7.3">BtCoro2B</text><use href="#bBase"/><use href="#bS2b"/><rect class="wh" x="183" y="-0.5" width="85" height="8.5"/><line class="bl" x1="183" y1="3.75" x2="268" y2="3.75"/><use href="#bM2"/><rect class="wh" x="972" y="-0.5" width="34" height="8.5"/><line class="bl" x1="970" y1="3.75" x2="1006" y2="3.75"/></g>
<g id="b-XtCoro2B" transform="translate(0,580.25)"><text x="55" y="7.3">XtCoro2B</text><use href="#bBase"/><use href="#bS2b"/><rect class="GR" x="264" y="0" width="4" height="7.5"/><use href="#bM2"/></g>
<g id="b-BrCoro2C" transform="translate(0,590.25)"><text x="55" y="7.3">BrCoro2C</text><use href="#bBase"/><use href="#bS2b"/><rect class="GR" x="264" y="0" width="4" height="7.5"/><use href="#bM2"/></g>
<g id="b-BrCoro2D" transform="translate(0,600.25)"><text x="55" y="7.3">BrCoro2D</text><use href="#bBase"/><use href="#bS2b"/><rect class="GR" x="264" y="0" width="4" height="7.5"/><use href="#bM2"/></g>
<g id="b-AngCoro2" transform="translate(0,610.25)"><text x="55" y="7.3">AngCoro2</text><use href="#bBase"/><rect class="TO" x="182" y="0" width="4" height="7.5"/><rect class="CB" x="305" y="0" width="4" height="7.5"/><rect class="GR" x="636" y="0" width="3" height="7.5"/>
<rect class="bx" x="639" y="0" width="23" height="7.5"/><rect class="bg" x="641" y="1" width="5" height="5.5"/><rect class="bx" x="664" y="0" width="48" height="7.5"/><rect class="bg" x="714" y="0" width="15" height="7.5"/>
<rect class="bx" x="825" y="0" width="12" height="7.5"/><rect class="bx" x="840" y="0" width="46" height="7.5"/><rect class="bg" x="855" y="1" width="3" height="5.5"/><rect class="bg" x="867" y="1" width="3" height="5.5"/><rect class="YG" x="886" y="0" width="4" height="7.5"/><rect class="bx" x="890" y="0" width="52" height="7.5"/><rect class="GR" x="954" y="0" width="4" height="7.5"/><rect class="bx" x="972" y="0" width="34" height="7.5"/></g>
<g id="b-Pf_aCoro" transform="translate(0,620.25)"><text x="55" y="7.3">Pf_aCoro</text><use href="#bBase"/><rect class="bg" x="187" y="0" width="9" height="7.5"/><rect class="TQ" x="203" y="0" width="4" height="7.5"/><rect class="PU" x="245" y="0" width="4" height="7.5"/>
<rect class="bx" x="638" y="0" width="24" height="7.5"/><rect class="bg" x="646" y="1" width="10" height="5.5"/><rect class="bx" x="664" y="0" width="48" height="7.5"/><rect class="bg" x="714" y="0" width="15" height="7.5"/><rect class="bx" x="732" y="0" width="8" height="7.5"/>
<rect class="bx" x="750" y="0" width="72" height="7.5"/><rect class="bx" x="865" y="0" width="21" height="7.5"/><rect class="bg" x="972" y="0" width="30" height="7.5"/></g>
<g id="b-EnCoro" transform="translate(0,630.25)"><text x="55" y="7.3">EnCoro</text><use href="#bBase"/><rect class="FB" x="196" y="0" width="4" height="7.5"/><rect class="TE" x="212" y="0" width="4" height="7.5"/><rect class="DG" x="236" y="0" width="4" height="7.5"/><rect class="SB" x="287" y="0" width="4" height="7.5"/><rect class="FB" x="342" y="0" width="4" height="7.5"/>
<rect class="bx" x="638" y="0" width="24" height="7.5"/><rect class="bg" x="646" y="1" width="6" height="5.5"/><rect class="bx" x="664" y="0" width="48" height="7.5"/><rect class="bg" x="672" y="1" width="12" height="5.5"/><rect class="bg" x="691" y="1" width="21" height="5.5"/><rect class="bx" x="714" y="0" width="10" height="7.5"/><rect class="bx" x="732" y="0" width="8" height="7.5"/>
<rect class="bx" x="752" y="0" width="85" height="7.5"/><rect class="bg" x="780" y="1" width="8" height="5.5"/><rect class="bg" x="812" y="1" width="5" height="5.5"/><rect class="TE" x="836" y="0" width="4" height="7.5"/><rect class="bx" x="840" y="0" width="24" height="7.5"/><rect class="bx" x="929" y="0" width="13" height="7.5"/><rect class="bx" x="972" y="0" width="31" height="7.5"/><rect class="bg" x="986" y="1" width="3" height="5.5"/></g>
<g id="b-AecCoro" transform="translate(0,640.25)"><text x="55" y="7.3">AecCoro</text><use href="#bBase"/><rect class="FB" x="196" y="0" width="4" height="7.5"/><rect class="TE" x="212" y="0" width="4" height="7.5"/><rect class="DG" x="236" y="0" width="4" height="7.5"/><rect class="SB" x="287" y="0" width="4" height="7.5"/><rect class="FB" x="342" y="0" width="4" height="7.5"/><rect class="SB" x="508" y="0" width="4" height="7.5"/>
<rect class="bx" x="638" y="0" width="24" height="7.5"/><rect class="bg" x="644" y="1" width="6" height="5.5"/><rect class="bx" x="664" y="0" width="48" height="7.5"/><rect class="bg" x="674" y="1" width="8" height="5.5"/><rect class="bg" x="689" y="1" width="23" height="5.5"/><rect class="bx" x="714" y="0" width="10" height="7.5"/><rect class="bx" x="732" y="0" width="8" height="7.5"/>
<rect class="bx" x="752" y="0" width="85" height="7.5"/><rect class="bg" x="778" y="1" width="7" height="5.5"/><rect class="bg" x="813" y="1" width="10" height="5.5"/><rect class="bx" x="840" y="0" width="24" height="7.5"/><rect class="bx" x="933" y="0" width="9" height="7.5"/><rect class="bx" x="972" y="0" width="31" height="7.5"/></g>
<g id="b-SpCoro" transform="translate(0,650.25)"><text x="55" y="7.3">SpCoro</text><use href="#bBase"/><rect class="FB" x="196" y="0" width="4" height="7.5"/><rect class="YG" x="222" y="0" width="4" height="7.5"/><rect class="CB" x="305" y="0" width="4" height="7.5"/><rect class="FB" x="342" y="0" width="4" height="7.5"/>
<rect class="bx" x="638" y="0" width="24" height="7.5"/><rect class="bg" x="643" y="1" width="6" height="5.5"/><rect class="bx" x="664" y="0" width="48" height="7.5"/><rect class="bg" x="667" y="1" width="5" height="5.5"/><rect class="bg" x="695" y="1" width="3" height="5.5"/><rect class="bx" x="732" y="0" width="8" height="7.5"/>
<rect class="bx" x="752" y="0" width="85" height="7.5"/><rect class="bg" x="773" y="1" width="7" height="5.5"/><rect class="bg" x="790" y="1" width="3" height="5.5"/><rect class="bx" x="840" y="0" width="5" height="7.5"/><rect class="bx" x="912" y="0" width="30" height="7.5"/><rect class="bx" x="972" y="0" width="36" height="7.5"/></g>
</g>

<g id="legendB">
<line class="hr2" x1="55" y1="674" x2="1055" y2="674"/>
<text x="55" y="688.5">Legend</text>
<rect class="bx" x="180" y="680" width="10" height="8.5"/><text x="190" y="688.5">Exon</text>
<rect class="bg" x="180" y="690" width="10" height="8.5"/><text x="190" y="698.5">Exon gap</text>
<rect class="FB" x="253" y="680" width="2" height="8.5"/><rect class="GR" x="255" y="680" width="2" height="8.5"/><rect class="DG" x="257" y="680" width="2" height="8.5"/><rect class="TE" x="259" y="680" width="2" height="8.5"/><rect class="PU" x="261" y="680" width="2" height="8.5"/>
<text x="263" y="688.5">Intron</text>
<line class="hr2" x1="326" y1="685" x2="388" y2="685" style="stroke-width:1"/><line class="hr2" x1="326" y1="682.5" x2="326" y2="687.5" style="stroke-width:1"/><line class="hr2" x1="388" y1="682.5" x2="388" y2="687.5" style="stroke-width:1"/><text x="389" y="688.5">223 bps Exon</text>
</g>
</svg>
